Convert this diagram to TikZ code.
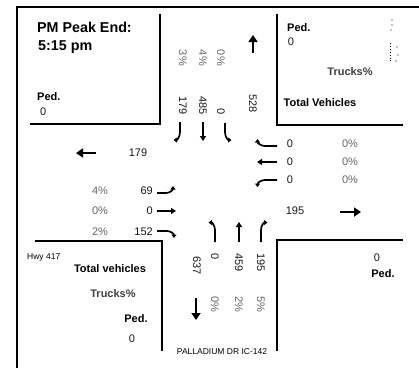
\documentclass[tikz,border=0pt]{standalone}
\usepackage{fontspec}
\setmainfont{Liberation Sans}
\usetikzlibrary{arrows.meta}
\tikzset{
  bigarr/.style={-{Triangle[length=7pt,width=9pt]}, line width=2.6pt},
  lanearr/.style={-{Triangle[length=5pt,width=6pt]}, line width=1.7pt},
  turnarr/.style={-{Triangle[length=3.5pt,width=5pt]}, line width=1.7pt},
  cnt/.style={font=\fontsize{11}{13}\selectfont, inner sep=0pt, text=black!90},
  pct/.style={cnt, text=black!60},
  lbl/.style={font=\bfseries\fontsize{11}{13}\selectfont, inner sep=0pt},
  smalltxt/.style={font=\fontsize{8.5}{10}\selectfont, inner sep=0pt},
  corner/.style={line width=1.4pt},
}

\begin{document}
\begin{tikzpicture}[x=1pt, y=-1pt]
  \useasboundingbox (0,0) rectangle (419,368);
  % outer frame
  \draw[line width=1.8pt] (419,7) -- (17,7) -- (17,368);
  % corners of the crossing
  \draw[corner] (30,124) -- (160,124) -- (160,14);
  \draw[corner] (277,14) -- (277,125) -- (403,125);
  \draw[corner] (35,241) -- (162,241) -- (162,351);
  \draw[corner] (403,240) -- (277,240) -- (277,351);

  % title block
  \node[font=\bfseries\fontsize{14.3}{16}\selectfont, inner sep=0pt, anchor=west] (title) at (37,27) {PM Peak End:};
  \node[font=\bfseries\fontsize{14.3}{16}\selectfont, inner sep=0pt, anchor=west] (time) at (38,47) {5:15 pm};
  \node[lbl, anchor=west] (pedNW) at (37,97) {Ped.};
  \node[cnt, anchor=west] (pedNWv) at (40,112) {0};

  % north approach
  \foreach \x/\p/\n [count=\i] in {183/3\%/179, 203/4\%/485, 221/0\%/0}{
    \node[pct, rotate=-90, anchor=east] (sbP\i) at (\x,66) {\p};
    \node[cnt, rotate=-90, anchor=east] (sbN\i) at (\x,115) {\n};
  }
  \node[cnt, rotate=-90, anchor=east] (nbOut) at (253,113) {528};
  \draw[bigarr] (253,53) -- (253,35);
  \draw[turnarr] (180,122) -- (180,132) to[out=-90,in=0] (173.5,140);
  \draw[lanearr] (203,122) -- (203,141);
  \draw[turnarr] (225,123) -- (225,132) to[out=-90,in=180] (231.5,140);

  % NE corner
  \node[lbl, anchor=west] (pedNE) at (287,28) {Ped.};
  \node[cnt] (pedNEv) at (291,42) {0};
  \node[lbl, text=black!75] (trkNE) at (350,72) {Trucks\%};
  \node[lbl] (totNE) at (320,103) {Total Vehicles};
  \foreach \px/\py in {392/20, 392/25, 391/30, 397/47, 398/55, 396/61}
    \fill (\px,\py) circle (0.6);
  \draw[line width=0.9pt, dotted] (390,43) -- (390,62);

  % east approach
  \foreach \y/\n/\p [count=\i] in {144/0/0\%, 162/0/0\%, 180/0/0\%}{
    \node[cnt] (wbN\i) at (290,\y) {\n};
    \node[pct] (wbP\i) at (350,\y) {\p};
  }
  \draw[turnarr] (277,146) -- (265,146) to[out=180,in=-90] (257.5,139);
  \draw[lanearr] (277,162) -- (257,162);
  \draw[turnarr] (277,180) -- (265,180) to[out=180,in=90] (257.5,187);

  % west approach
  \draw[bigarr] (96,153) -- (76,153);
  \node[cnt] (ebOut) at (138,153) {179};
  \foreach \y/\p/\n [count=\i] in {191/4\%/69, 211/0\%/0, 232/2\%/152}{
    \node[pct] (ebP\i) at (100,\y) {\p};
    \node[cnt, anchor=east] (ebN\i) at (153,\y) {\n};
  }
  \draw[turnarr] (157,193) -- (166,193) to[out=0,in=-90] (173,186);
  \draw[lanearr] (157,211) -- (176,211);
  \draw[turnarr] (157,231) -- (167,231) to[out=0,in=90] (174,238);
  \node[cnt] (wbOut) at (295,211) {195};
  \draw[bigarr] (340,212) -- (361,212);

  % south approach
  \draw[turnarr] (215,242) -- (215,230) to[out=90,in=0] (208.5,222.5);
  \draw[lanearr] (239,242) -- (239,222);
  \draw[turnarr] (261,242) -- (261,230) to[out=90,in=180] (267.5,222.5);
  \node[cnt, rotate=-90, anchor=west] (sbOut) at (197,256) {637};
  \foreach \x/\n/\p [count=\i] in {215/0/0\%, 239/459/2\%, 261/195/5\%}{
    \node[cnt, rotate=-90, anchor=west] (nbN\i) at (\x,253) {\n};
    \node[pct, rotate=-90, anchor=west] (nbP\i) at (\x,296) {\p};
  }
  \draw[bigarr] (196,298) -- (196,320);
  \node[smalltxt] (street) at (222,352) {PALLADIUM DR IC-142};

  % SW corner
  \node[smalltxt, anchor=west] (hwy) at (27,257) {Hwy 417};
  \node[lbl] (totSW) at (110,269) {Total vehicles};
  \node[lbl, text=black!75] (trkSW) at (113,294) {Trucks\%};
  \node[lbl] (pedSW) at (136,319) {Ped.};
  \node[cnt] (pedSWv) at (132,339) {0};

  % SE corner
  \node[cnt] (pedSEv) at (377,258) {0};
  \node[lbl] (pedSE) at (383,274) {Ped.};
\end{tikzpicture}
\end{document}
